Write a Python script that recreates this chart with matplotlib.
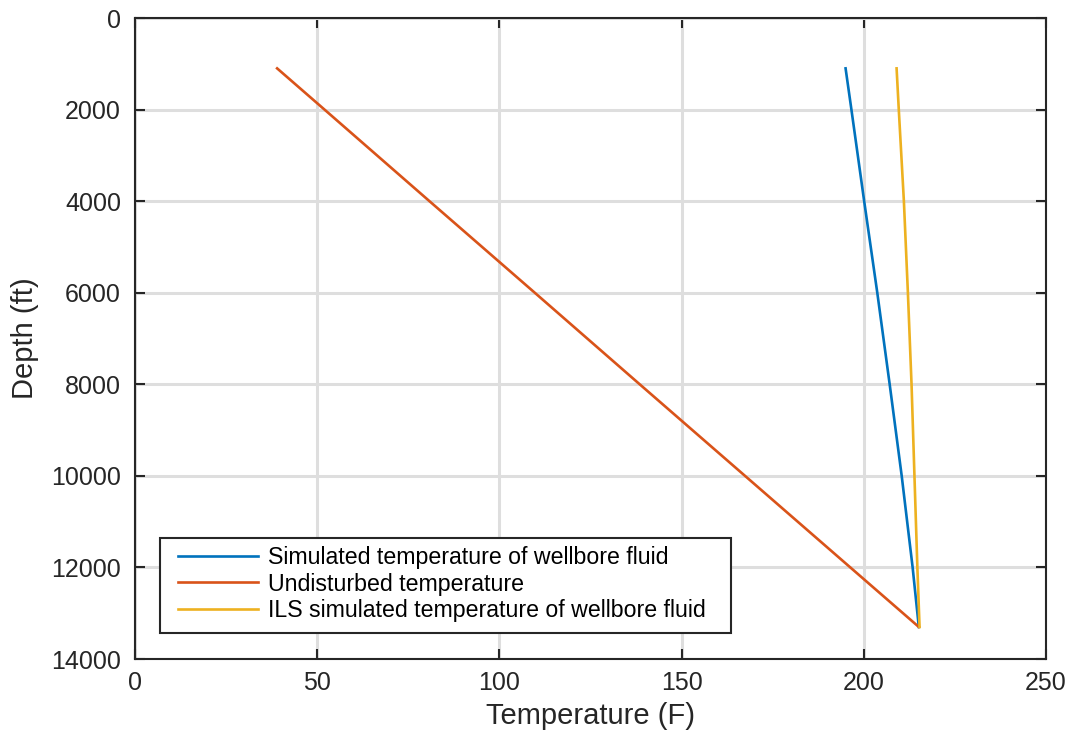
import matplotlib
matplotlib.use("Agg")
import matplotlib.pyplot as plt
from matplotlib.patches import Rectangle

plt.rcParams['font.family'] = ['Liberation Sans', 'DejaVu Sans']

depth = [1100, 2000, 4000, 6000, 8000, 10000, 12000, 13300]
sim_temp = [195.0, 196.6, 200.1, 203.7, 207.1, 210.4, 213.4, 215.1]
undisturbed_temp = [39.0, 52.0, 80.8, 109.7, 138.5, 167.4, 196.3, 215.1]
ils_temp = [209.0, 209.6, 211.0, 212.1, 213.1, 213.9, 214.7, 215.3]

xticks = [0, 50, 100, 150, 200, 250]
yticks = [0, 2000, 4000, 6000, 8000, 10000, 12000, 14000]

W, H = 1072, 735
ax_l, ax_r, ax_t, ax_b = 135, 1046, 18, 659

fig = plt.figure(figsize=(W / 100, H / 100), dpi=100)
ax = fig.add_axes([ax_l / W, 1 - ax_b / H, (ax_r - ax_l) / W, (ax_b - ax_t) / H])

ax.plot(sim_temp, depth, color='#0072BD', lw=1.9, label='Simulated temperature of wellbore fluid')
ax.plot(undisturbed_temp, depth, color='#D95319', lw=1.9, label='Undisturbed temperature')
ax.plot(ils_temp, depth, color='#EDB120', lw=1.9, label='ILS simulated temperature of wellbore fluid')

ax.set_xlim(0, 250)
ax.set_ylim(14000, 0)
ax.set_xticks(xticks)
ax.set_yticks(yticks)
ax.grid(True, color='#dedede', lw=2.2)
ax.set_axisbelow(True)
ax.tick_params(axis='both', direction='in', top=True, right=True, labelsize=18,
               length=7, width=1.5, colors='#262626')
ax.tick_params(axis='y', pad=10)
ax.tick_params(axis='x', pad=9)
for s in ax.spines.values():
    s.set_linewidth(1.5)
    s.set_color('#262626')
ax.set_xlabel('Temperature (F)', fontsize=21, color='#262626', labelpad=5)
ax.set_ylabel('Depth (ft)', fontsize=21, color='#262626', labelpad=9)

# legend frame (pixel box of the reference legend)
bx0, bx1, by0, by1 = 160, 731, 538, 633
pw, ph = ax_r - ax_l, ax_b - ax_t
ax.add_patch(Rectangle(((bx0 - ax_l) / pw, (ax_b - by1) / ph), (bx1 - bx0) / pw, (by1 - by0) / ph,
                       transform=ax.transAxes, facecolor='white', edgecolor='#262626',
                       lw=1.5, zorder=4))

leg = ax.legend(loc='upper left', bbox_to_anchor=((172 - ax_l) / pw, (ax_b - 540) / ph),
                fontsize=16.7, frameon=False, handlelength=3.45, borderpad=0.25,
                borderaxespad=0, labelspacing=0.16, handletextpad=0.42)
leg.set_zorder(5)

fig.savefig('out.png', dpi=100)
